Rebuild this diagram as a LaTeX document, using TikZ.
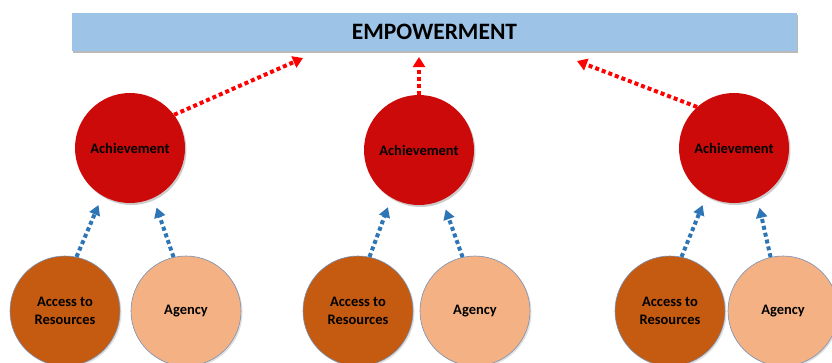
\documentclass[tikz,border=0pt]{standalone}
\usepackage{fontspec}
\setmainfont{Carlito}
\usetikzlibrary{arrows.meta,shadows}
\definecolor{banblue}{RGB}{157,195,230}
\definecolor{achred}{RGB}{204,10,10}
\definecolor{accbrown}{RGB}{197,90,17}
\definecolor{agypeach}{RGB}{244,177,131}
\definecolor{arrblue}{RGB}{46,117,182}
\definecolor{rimblue}{RGB}{120,145,180}
\tikzset{
  banner/.style={fill=banblue, minimum width=725pt, minimum height=38pt, inner sep=0pt,
    font=\fontsize{23.5}{26}\selectfont\bfseries,
    drop shadow={shadow xshift=1pt, shadow yshift=-2pt, fill=black!45, opacity=0.6}},
  achieve/.style={circle, fill=achred, minimum size=110pt, inner sep=0pt,
    font=\fontsize{14.5}{17}\selectfont\bfseries,
    drop shadow={shadow xshift=1.5pt, shadow yshift=-2pt, fill=black!40, opacity=0.5}},
  access/.style={circle, fill=accbrown, draw=rimblue, line width=0.6pt, minimum size=110pt,
    inner sep=0pt, align=center, font=\fontsize{14.5}{17.5}\selectfont\bfseries,
    drop shadow={shadow xshift=1.5pt, shadow yshift=-1.5pt, fill=black!30, opacity=0.4}},
  agency/.style={access, fill=agypeach},
  redarrow/.style={red, line width=4pt, dash pattern=on 4pt off 3pt,
    -{Triangle[length=10pt,width=12pt]}},
  bluearrow/.style={arrblue, line width=4pt, dash pattern=on 4pt off 3pt,
    -{Triangle[length=10pt,width=11pt]}, shorten >=10pt}
}
\begin{document}
\begin{tikzpicture}[x=1pt,y=-1pt]
  \useasboundingbox (0,0) rectangle (832,362);
  \node[banner] (emp) at (434.5,32) {EMPOWERMENT};
  % achievements
  \node[achieve] (ach1) at (130,148) {Achievement};
  \node[achieve] (ach2) at (419,150) {Achievement};
  \node[achieve] (ach3) at (734,148) {Achievement};
  % resources and agency
  \node[access] (acc1) at (65,311) {Access to\\Resources};
  \node[agency] (agy1) at (186,311) {Agency};
  \node[access] (acc2) at (358,311) {Access to\\Resources};
  \node[agency] (agy2) at (475,311) {Agency};
  \node[access] (acc3) at (670,311) {Access to\\Resources};
  \node[agency] (agy3) at (783,311) {Agency};
  % arrow ends below the banner
  \coordinate (tip1) at (303,58);
  \coordinate (tip2) at (419,57);
  \coordinate (tip3) at (577,61);
  \draw[redarrow] (ach1.37) -- (tip1);
  \draw[redarrow] (ach2.north) -- (tip2);
  \draw[redarrow] (ach3.132) -- (tip3);
  \draw[bluearrow] (acc1.78) -- (ach1.240);
  \draw[bluearrow] (agy1.103) -- (ach1.295);
  \draw[bluearrow] (acc2.78) -- (ach2.240);
  \draw[bluearrow] (agy2.103) -- (ach2.295);
  \draw[bluearrow] (acc3.78) -- (ach3.240);
  \draw[bluearrow] (agy3.103) -- (ach3.295);
\end{tikzpicture}
\end{document}
